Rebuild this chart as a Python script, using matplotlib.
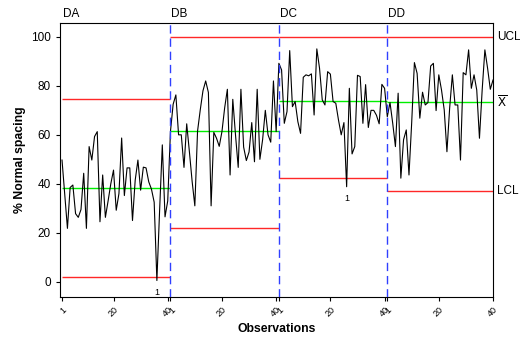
import numpy as np
import matplotlib
matplotlib.use("Agg")
import matplotlib.pyplot as plt

plt.rcParams['font.family'] = ['Liberation Sans', 'DejaVu Sans']

# stage names and per-stage observations (% normal spacing)
stages = ['DA', 'DB', 'DC', 'DD']

da = [49.7, 36, 21.8, 38.5, 39.5, 27.8, 26.3, 29.5, 44.3, 21.8,
      55.2, 49.7, 59.3, 61.3, 24.5, 43.6, 26.3, 33, 40, 45.6,
      29.2, 36, 58.7, 35.2, 46.5, 46.5, 25, 41.5, 49.7, 37.4,
      46.8, 46.5, 40.8, 37.8, 32.5, 0.5, 29, 55.9, 26.5, 33]
db = [61.3, 72.5, 76.3, 60, 60, 46.7, 64.5, 53, 41, 31,
      61.5, 70.2, 78, 82, 77.3, 31, 61, 58.6, 55.3, 61.3,
      71, 78.6, 43.6, 74.5, 60, 46.7, 78.6, 55, 49.5, 53,
      65, 49, 78.6, 50, 58, 70, 60, 57, 82, 61.3]
dc = [89.2, 86.5, 64.7, 69.5, 94.4, 71.5, 73.6, 65.4, 60.6, 83.5,
      84.5, 84.1, 84.9, 68.1, 95.1, 87.2, 74.3, 72.2, 85.8, 84.8,
      73.6, 72.9, 66, 60, 65, 38.8, 79, 52.2, 55.2, 84.3,
      83.8, 64.7, 80.5, 63, 70, 70, 68, 64.5, 80.6, 79]
dd = [67.4, 73.2, 64.7, 55.2, 77, 42.3, 58, 62, 43.6, 65,
      89.5, 85.1, 66.8, 77.4, 72.2, 73.2, 88.1, 89.2, 69.9, 84.5,
      78.3, 70.2, 53.1, 70.9, 84.5, 72.2, 72.2, 49.7, 85.4, 84.5,
      94.7, 79, 84.5, 78.3, 58.6, 78.3, 94.7, 87.2, 78.6, 82.4]

# control limits per stage
center = [38.4, 61.6, 73.7, 73.3]
ucl = [74.8, 100, 100, 100]
lcl = [2.0, 21.8, 42.3, 37.1]

# flagged points (stage, obs within stage)
flags = [(0, 36), (2, 26)]

data = [da, db, dc, dd]
n = len(da)
y = np.concatenate(data)
x = np.arange(1, len(y) + 1)

fig = plt.figure(figsize=(5.2, 3.4), dpi=100)
ax = fig.add_axes([0.1154, 0.1274, 0.8327, 0.8059])

ax.plot(x, y, color='black', lw=0.8, zorder=3)

for k in range(len(stages)):
    x0 = k * n + 1
    x1 = (k + 1) * n + 1 if k < len(stages) - 1 else len(y)
    ax.hlines(center[k], x0, x1, color='#00ee00', lw=1.0, zorder=2)
    ax.hlines([ucl[k], lcl[k]], x0, x1, color='#ff2828', lw=1.0, zorder=2)
    ax.text(x0 + 0.3, 1.008, stages[k], transform=ax.get_xaxis_transform(),
            fontsize=8.5, va='bottom', ha='left')
    if k > 0:
        ax.axvline(x0, color='#3040ff', lw=1.0, ls=(0, (6, 3.5)), zorder=4)

for s, i in flags:
    ax.text(s * n + i, data[s][i - 1] - 3, '1', fontsize=6.5,
            ha='center', va='top')

# right hand labels for last stage
ax.text(1.01, ucl[-1], 'UCL', transform=ax.get_yaxis_transform(),
        fontsize=8.5, va='center', ha='left')
ax.text(1.01, center[-1], r'$\overline{\mathrm{X}}$', transform=ax.get_yaxis_transform(),
        fontsize=8.5, va='center', ha='left')
ax.text(1.01, lcl[-1], 'LCL', transform=ax.get_yaxis_transform(),
        fontsize=8.5, va='center', ha='left')

ax.set_xlim(0.26, 160)
ax.set_ylim(-6.1, 105.8)
ax.set_yticks([0, 20, 40, 60, 80, 100])

tick_pos = []
tick_lab = []
for k in range(len(stages)):
    for t in [1, 20, 40]:
        tick_pos.append(k * n + t)
        tick_lab.append(str(t))
ax.set_xticks(tick_pos)
ax.set_xticklabels(tick_lab, rotation=45, fontsize=6.5, ha='right',
                   rotation_mode='anchor')
ax.tick_params(axis='y', labelsize=8.5, length=3)
ax.tick_params(axis='x', length=3, pad=3)

ax.set_xlabel('Observations', fontsize=8.8, fontweight='bold', labelpad=3)
ax.set_ylabel('% Normal spacing', fontsize=8.8, fontweight='bold', labelpad=4)

for sp in ax.spines.values():
    sp.set_linewidth(0.8)

fig.savefig('out.png', dpi=100)
